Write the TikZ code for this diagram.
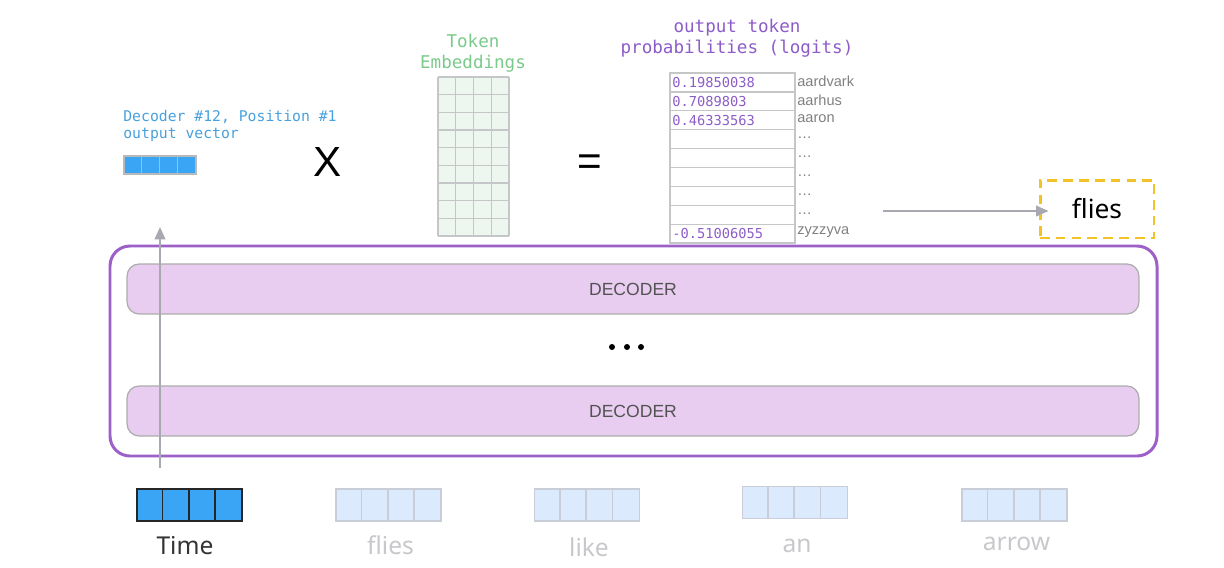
\documentclass[tikz,border=0pt]{standalone}
\usepackage{fontspec}
\setmainfont{Noto Sans}
\setsansfont{Liberation Sans}
\setmonofont{DejaVu Sans Mono}
\usepackage{tikz}
\usetikzlibrary{arrows.meta,positioning}
\usepackage{xcolor}
\definecolor{vecblue}{RGB}{58,164,245}
\definecolor{vecpale}{RGB}{219,234,252}
\definecolor{paleline}{RGB}{200,205,216}
\definecolor{embgreen}{RGB}{238,247,239}
\definecolor{gridgray}{RGB}{196,198,200}
\definecolor{labelblue}{RGB}{72,160,222}
\definecolor{labelgreen}{RGB}{122,202,138}
\definecolor{logitpurple}{RGB}{140,92,200}
\definecolor{decfill}{RGB}{233,205,240}
\definecolor{stackpurple}{RGB}{156,96,200}
\definecolor{pickyellow}{RGB}{243,194,40}
\definecolor{arrowgray}{RGB}{168,168,176}
\definecolor{wordgray}{RGB}{200,200,204}

\begin{document}
\begin{tikzpicture}[x=0.02cm,y=-0.02cm,
    vecbox/.style={draw=paleline,fill=vecpale,line width=0.9pt,
      minimum width=2.1cm,minimum height=0.64cm,inner sep=0pt},
    decbox/.style={draw=gray!65,fill=decfill,line width=0.7pt,rounded corners=0.24cm,
      minimum width=20.24cm,minimum height=1cm,
      font=\sffamily\fontsize{10}{11}\selectfont,text=black!68},
    wordlabel/.style={font=\fontsize{14}{16}\selectfont,text=wordgray},
    flow/.style={draw=arrowgray,-{Triangle[length=7pt,width=6pt]}}]
    \useasboundingbox (0,0) rectangle (1224,568);
    % Headers
    \node[anchor=north west,align=left,inner sep=0pt,text=labelblue,
      font=\ttfamily\fontsize{8.4}{9.8}\selectfont] (outlbl) at (123,110)
      {Decoder \#12, Position \#1\\output vector};
    \node[align=center,text=labelgreen,font=\ttfamily\fontsize{10}{12}\selectfont]
      (emblbl) at (473,53) {Token\\Embeddings};
    \node[align=center,text=logitpurple,font=\ttfamily\fontsize{10}{12}\selectfont]
      (logitlbl) at (737,38) {output token\\probabilities (logits)};
    % Output vector
    \node[draw=gray!55,fill=vecblue,line width=0.8pt,inner sep=0pt,
      minimum width=1.44cm,minimum height=0.36cm] (outvec) at (160,165) {};
    \foreach \i in {1,2,3}
      \draw[gray!55,line width=0.8pt] (outvec.north west) ++(\i*18,0) -- ++(0,18);
    \node[font=\sffamily\fontsize{24}{24}\selectfont] (times) at (328,162) {X};
    \node[font=\sffamily\fontsize{24}{24}\selectfont] (equals) at (590,165) {=};
    % Token embeddings
    \fill[embgreen] (438,77) rectangle (509,236);
    \foreach \i in {0,...,4}
      \draw[gridgray,line width=0.7pt] ({438+\i*17.75},77) -- ++(0,159);
    \foreach \j in {0,...,9}
      \draw[gridgray,line width=0.7pt] (438,{77+\j*17.667}) -- ++(71,0);
    % Logits
    \foreach \j/\val/\word in {0/0.19850038/aardvark,1/0.7089803/aarhus,
        2/0.46333563/aaron,3//\dots,4//\dots,5//\dots,6//\dots,7//\dots,
        8/-0.51006055/zyzzyva}{
      \draw[gridgray,line width=0.7pt] (670,{73+\j*18.9}) rectangle ++(125,18.9);
      \node[anchor=west,inner sep=0pt,text=logitpurple,
        font=\ttfamily\fontsize{7.8}{9}\selectfont] (val\j) at (672,{82.5+\j*18.9}) {\val};
      \node[anchor=west,inner sep=0pt,text=black!50,
        font=\sffamily\fontsize{8.3}{9}\selectfont] (word\j) at (797,{81+\j*18.9}) {\word};
    }
    % Chosen token
    \node[draw=pickyellow,line width=1.7pt,dash pattern=on 5.5pt off 3.5pt,
      minimum width=2.28cm,minimum height=1.16cm,font=\fontsize{15}{16}\selectfont]
      (pick) at (1097,209) {flies};
    \coordinate (argmax) at (883,211);
    \draw[flow,line width=1pt] (argmax) -- ([xshift=0.2cm]pick.west |- argmax);
    % Decoder stack
    \draw[stackpurple,line width=1.7pt,rounded corners=0.4cm] (110,246) rectangle (1157,456);
    \node[decbox] (dectop) at (633,289) {DECODER};
    \node[decbox] (decbot) at (633,411) {DECODER};
    \foreach \x in {612,627,641}
      \fill (\x,347) circle (3);
    % Time step path
    \coordinate (pathin) at (160,468);
    \coordinate (pathout) at (160,227);
    \draw[flow,line width=1.2pt] (pathin) -- (pathout);
    % Input tokens
    \node[vecbox,draw=black!85,fill=vecblue] (tok1) at (189.5,505) {};
    \foreach \i in {1,2,3}
      \draw[black!85,line width=0.9pt] (tok1.north west) ++(\i*26.25,0) -- ++(0,32);
    \node[wordlabel,text=black!80] (lbl1) at (185,546) {Time};
    \foreach \n/\cx/\cy/\ly/\w in {2/388.5/505/545/flies,3/587/505/547/like,
        4/795/502.5/546/an,5/1014.5/505/544/arrow}{
      \node[vecbox] (tok\n) at (\cx,\cy) {};
      \foreach \i in {1,2,3}
        \draw[paleline,line width=0.9pt] (tok\n.north west) ++(\i*26.25,0) -- ++(0,32);
      \node[wordlabel] (lbl\n) at ({\cx+2},\ly) {\w};
    }
\end{tikzpicture}
\end{document}
